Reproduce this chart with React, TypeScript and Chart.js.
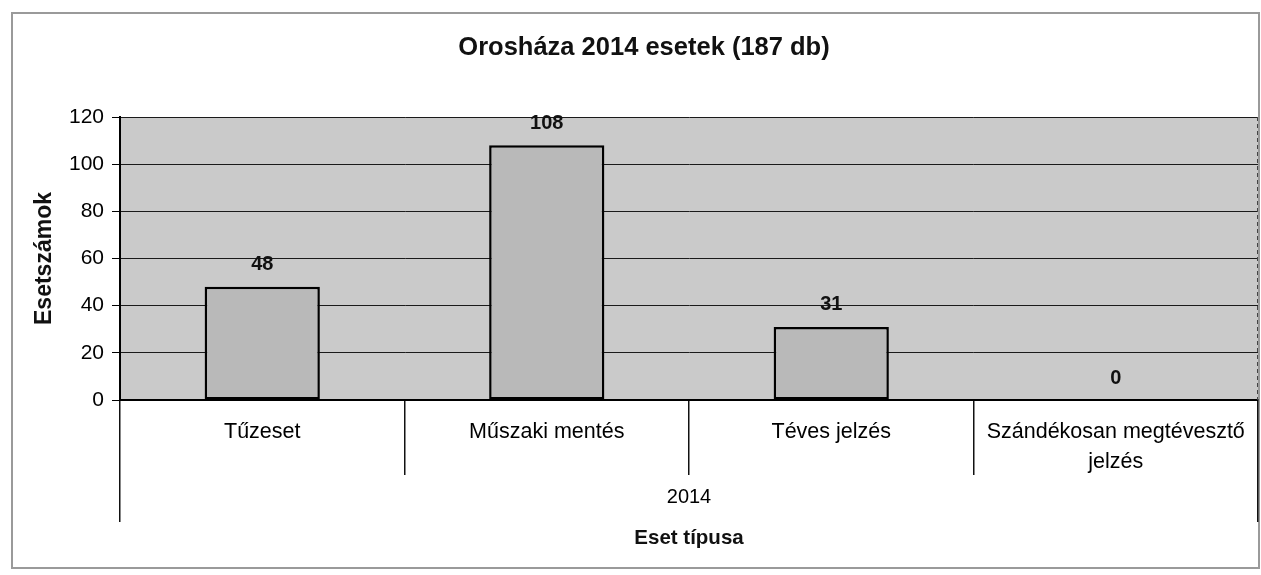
import React, { useEffect, useRef } from 'react';
import { Chart, registerables } from 'chart.js';

Chart.register(...registerables);

const chartTitle = 'Orosháza 2014 esetek (187 db)';
const categories: (string | string[])[] = ['Tűzeset', 'Műszaki mentés', 'Téves jelzés', ['Szándékosan megtévesztő', 'jelzés']];
const groupLabels = ['2014'];
const values = [48, 108, 31, 0];
const yMin = 0;
const yMax = 120;
const yStep = 20;
const yTitle = 'Esetszámok';
const xTitle = 'Eset típusa';

const FONT = "Arial, 'Liberation Sans', sans-serif";

const framePlugin = {
  id: 'frame',
  beforeDraw(chart: any) {
    const { ctx, chartArea, width, height } = chart;
    ctx.save();
    ctx.fillStyle = '#ffffff';
    ctx.fillRect(0, 0, width, height);
    ctx.strokeStyle = '#9a9a9a';
    ctx.lineWidth = 2;
    ctx.strokeRect(12, 13, 1247, 555);
    ctx.fillStyle = '#cacaca';
    ctx.fillRect(chartArea.left, chartArea.top, chartArea.right - chartArea.left, chartArea.bottom - chartArea.top);
    ctx.restore();
  },
  afterDraw(chart: any) {
    const { ctx, chartArea } = chart;
    ctx.save();
    ctx.strokeStyle = '#444';
    ctx.lineWidth = 1;
    ctx.setLineDash([4, 3]);
    ctx.beginPath();
    ctx.moveTo(chartArea.right - 0.5, chartArea.top);
    ctx.lineTo(chartArea.right - 0.5, chartArea.bottom);
    ctx.stroke();
    ctx.restore();
  },
};

const valueLabelPlugin = {
  id: 'valueLabels',
  afterDatasetsDraw(chart: any) {
    const { ctx } = chart;
    const meta = chart.getDatasetMeta(0);
    const data = chart.data.datasets[0].data;
    ctx.save();
    ctx.font = `bold 20px ${FONT}`;
    ctx.fillStyle = '#111';
    ctx.textAlign = 'center';
    ctx.textBaseline = 'middle';
    meta.data.forEach((el: any, i: number) => {
      ctx.fillText(String(data[i]), el.x, el.y - 22);
    });
    ctx.restore();
  },
};

export default function App() {
  const ref = useRef<HTMLCanvasElement | null>(null);

  useEffect(() => {
    if (!ref.current) return;
    const chart = new Chart(ref.current, {
      type: 'bar',
      data: {
        labels: categories,
        datasets: [
          {
            data: values,
            backgroundColor: '#b9b9b9',
            borderColor: '#000',
            borderWidth: 2.5,
            borderSkipped: false,
            categoryPercentage: 1,
            barPercentage: 0.405,
          },
        ],
      },
      options: {
        responsive: false,
        animation: false,
        layout: { padding: { top: 0, left: 30, right: 3, bottom: 7 } },
        plugins: {
          legend: { display: false },
          tooltip: { enabled: false },
          title: {
            display: true,
            text: chartTitle,
            color: '#111',
            font: { family: FONT, size: 25.5, weight: 'bold', lineHeight: 1.2 },
            padding: { top: 33, bottom: 53.4 },
          },
        },
        scales: {
          y: {
            min: yMin,
            max: yMax,
            ticks: {
              stepSize: yStep,
              color: '#000',
              padding: 8,
              font: { family: FONT, size: 21 },
            },
            grid: {
              color: '#1a1a1a',
              lineWidth: 1,
              tickLength: 8,
              tickColor: '#000',
            },
            border: { display: true, color: '#000', width: 2 },
            title: {
              display: true,
              text: yTitle,
              color: '#111',
              font: { family: FONT, size: 23, weight: 'bold', lineHeight: 1.2 },
              padding: { top: 1, bottom: 0 },
            },
            afterFit(scale: any) {
              scale.width = 90;
            },
          },
          x: {
            type: 'category',
            offset: true,
            ticks: {
              color: '#000',
              autoSkip: false,
              maxRotation: 0,
              minRotation: 0,
              padding: -58,
              font: { family: FONT, size: 21.5, lineHeight: 1.4 },
            },
            grid: {
              offset: true,
              drawOnChartArea: false,
              drawTicks: true,
              tickLength: 75,
              color: '#111',
              tickColor: '#111',
              lineWidth: 1.5,
            },
            border: { display: true, color: '#000', width: 2 },
            afterFit(scale: any) {
              scale.height = 75;
            },
          },
          x2: {
            type: 'category',
            position: 'bottom',
            labels: groupLabels,
            offset: true,
            ticks: {
              color: '#000',
              padding: -37,
              maxRotation: 0,
              font: { family: FONT, size: 20, lineHeight: 1.2 },
            },
            grid: {
              offset: true,
              drawOnChartArea: false,
              drawTicks: true,
              tickLength: 47,
              color: '#111',
              tickColor: '#111',
              lineWidth: 1.5,
            },
            border: { display: false },
            title: {
              display: true,
              text: xTitle,
              color: '#111',
              font: { family: FONT, size: 20.5, weight: 'bold', lineHeight: 1.2 },
              padding: { top: 0, bottom: 17 },
            },
            afterFit(scale: any) {
              scale.height = 93;
            },
          },
        },
      } as any,
      plugins: [framePlugin, valueLabelPlugin],
    });
    return () => chart.destroy();
  }, []);

  return (
    <div style={{ position: 'fixed', left: 0, top: 0, width: 1261, height: 575, background: '#fff' }}>
      <canvas ref={ref} width={1261} height={575} style={{ display: 'block' }} />
    </div>
  );
}
